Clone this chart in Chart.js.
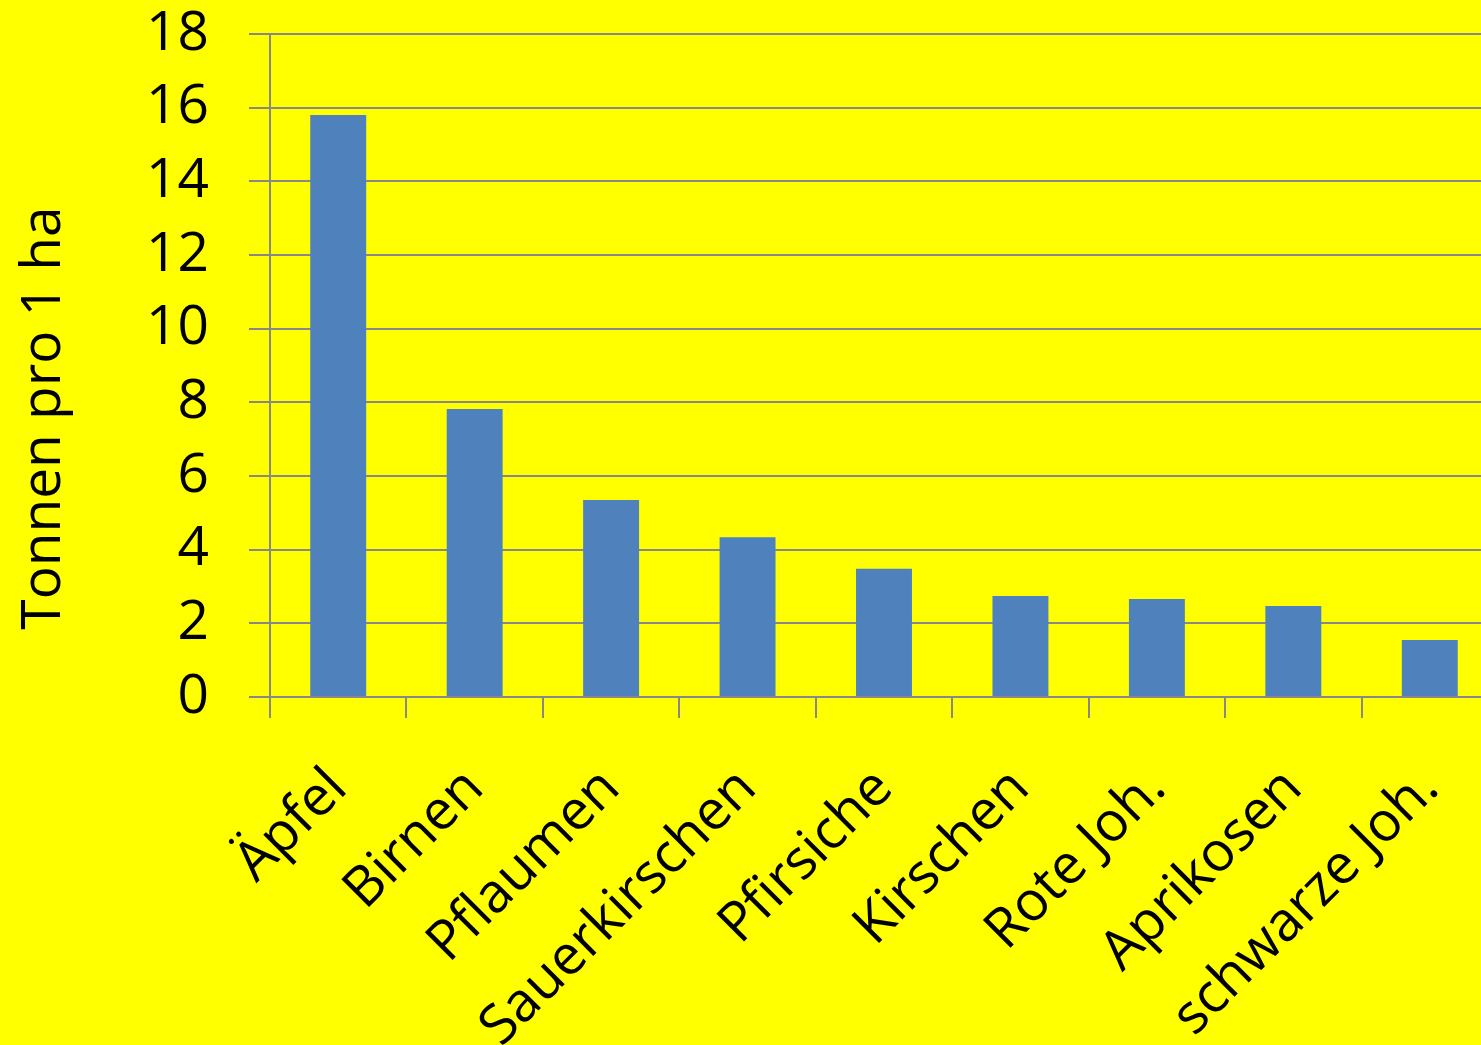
<!DOCTYPE html>
<html>
<head>
<meta charset="utf-8">
<script src="https://cdn.jsdelivr.net/npm/chart.js@4.4.1/dist/chart.umd.min.js"></script>
<style>
html, body { margin: 0; padding: 0; background: #ffff00; overflow: hidden; }
canvas { display: block; }
</style>
</head>
<body>
<canvas id="ertrag-chart" width="1498" height="1045"></canvas>
<script>
const fruits = ["Äpfel", "Birnen", "Pflaumen", "Sauerkirschen", "Pfirsiche", "Kirschen", "Rote Joh.", "Aprikosen", "schwarze Joh."];
const tonsPerHa = [15.8, 7.82, 5.35, 4.34, 3.48, 2.74, 2.66, 2.47, 1.55];
const yMin = 0;
const yMax = 18;
const yStep = 2;
const yTitle = "Tonnen pro 1 ha";

const gridGray = "#888888";
const fontFamily = "'Open Sans', sans-serif";

// y title drawn by hand so it can sit a bit lower than the axis centre, like the original
const yTitlePlugin = {
    id: "yTitle",
    afterDraw(chart) {
        const ctx = chart.ctx;
        ctx.save();
        ctx.translate(44, 418);
        ctx.rotate(-Math.PI / 2);
        ctx.font = "500 55px " + fontFamily;
        ctx.fillStyle = "#000";
        ctx.textAlign = "center";
        ctx.textBaseline = "middle";
        ctx.fillText(yTitle, 0, 0);
        ctx.restore();
    }
};

const config = {
    type: "bar",
    data: {
        labels: fruits,
        datasets: [{
            label: yTitle,
            data: tonsPerHa,
            backgroundColor: "#4f81bd",
            borderWidth: 0,
            categoryPercentage: 1.0,
            barPercentage: 0.41
        }]
    },
    options: {
        responsive: false,
        animation: false,
        devicePixelRatio: 1,
        layout: { padding: 0 },
        plugins: {
            legend: { display: false },
            tooltip: { enabled: false }
        },
        scales: {
            y: {
                min: yMin,
                max: yMax,
                ticks: {
                    stepSize: yStep,
                    color: "#000",
                    padding: 40,
                    font: { family: fontFamily, size: 55, weight: 500 }
                },
                grid: { color: gridGray, lineWidth: 2, tickLength: 21 },
                border: { color: gridGray, width: 2 },
                afterFit: function (axis) {
                    axis.width = 270;
                    axis.paddingTop = 34;
                    axis.paddingBottom = 0;
                }
            },
            x: {
                ticks: {
                    color: "#000",
                    autoSkip: false,
                    minRotation: 45,
                    maxRotation: 45,
                    padding: 38,
                    font: { family: fontFamily, size: 55, weight: 500 }
                },
                grid: {
                    offset: true,
                    drawOnChartArea: false,
                    color: gridGray,
                    lineWidth: 2,
                    tickLength: 21
                },
                border: { color: gridGray, width: 2 },
                afterFit: function (axis) {
                    axis.height = 1045 - 697;
                    axis.paddingLeft = 0;
                    axis.paddingRight = 0;
                }
            }
        }
    },
    plugins: [yTitlePlugin]
};

new Chart(document.getElementById("ertrag-chart"), config);
</script>
</body>
</html>
